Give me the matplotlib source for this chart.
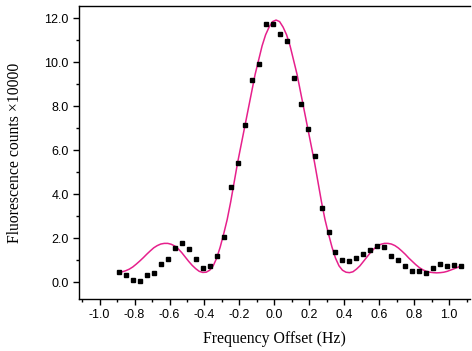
import numpy as np
import matplotlib
matplotlib.use('Agg')
import matplotlib.pyplot as plt
from matplotlib.ticker import MultipleLocator, FormatStrFormatter

plt.rcParams['axes.unicode_minus'] = False

# measured points: frequency offset (Hz) and counts (x10000)
freq = np.round(np.arange(-0.89, 1.071, 0.04), 2)
counts = [0.47, 0.33, 0.12, 0.07, 0.35, 0.44, 0.82, 1.06, 1.57, 1.79,
          1.53, 1.07, 0.64, 0.76, 1.21, 2.06, 4.33, 5.44, 7.15, 9.20,
          9.91, 11.75, 11.75, 11.27, 10.98, 9.30, 8.09, 6.98, 5.73, 3.39,
          2.29, 1.36, 1.03, 0.98, 1.10, 1.29, 1.45, 1.65, 1.60, 1.20,
          1.03, 0.73, 0.51, 0.50, 0.42, 0.66, 0.83, 0.76, 0.80, 0.76]

# fit curve
fit_x = np.round(np.arange(-0.89, 1.071, 0.02), 2)
fit_y = [0.47, 0.48, 0.53, 0.60, 0.70, 0.83, 0.97, 1.12, 1.28, 1.43,
         1.57, 1.67, 1.74, 1.77, 1.77, 1.73, 1.65, 1.52, 1.35, 1.15,
         0.95, 0.77, 0.62, 0.50, 0.45, 0.46, 0.55, 0.75, 1.10, 1.60,
         2.20, 2.85, 3.65, 4.55, 5.45, 6.25, 7.05, 7.85, 8.65, 9.45,
         10.10, 10.75, 11.25, 11.60, 11.85,
         11.92, 11.85, 11.60, 11.25, 10.75, 10.10, 9.45, 8.65, 7.85, 7.05,
         6.25, 5.45, 4.55, 3.65, 2.85, 2.20, 1.60, 1.10, 0.75, 0.55,
         0.46, 0.44, 0.48, 0.60, 0.75, 0.95, 1.15, 1.35, 1.52, 1.65,
         1.73, 1.77, 1.77, 1.74, 1.67, 1.56, 1.42, 1.27, 1.10, 0.95,
         0.80, 0.67, 0.57, 0.50, 0.46, 0.44, 0.43, 0.44, 0.46, 0.50,
         0.56, 0.62, 0.68, 0.76]

fig = plt.figure(figsize=(4.72, 3.51), dpi=100)
ax = fig.add_axes([0.1674, 0.148, 0.8284, 0.835])

ax.plot(fit_x, fit_y, color='#e6208c', lw=1.1, zorder=2)
ax.plot(freq, counts, 's', color='black', ms=2.8, zorder=3)

ax.set_xlim(-1.118, 1.12)
ax.set_ylim(-0.76, 12.56)

ax.xaxis.set_major_locator(MultipleLocator(0.2))
ax.xaxis.set_minor_locator(MultipleLocator(0.1))
ax.yaxis.set_major_locator(MultipleLocator(2))
ax.yaxis.set_minor_locator(MultipleLocator(1))
ax.xaxis.set_major_formatter(FormatStrFormatter('%.1f'))
ax.yaxis.set_major_formatter(FormatStrFormatter('%.1f'))

ax.spines['right'].set_visible(False)
for s in ['left', 'bottom', 'top']:
    ax.spines[s].set_linewidth(1.0)

ax.tick_params(which='major', length=4, width=1, direction='out',
               labelsize=9, pad=3.5)
ax.tick_params(which='minor', length=2.2, width=1, direction='out')
for lab in ax.get_xticklabels() + ax.get_yticklabels():
    lab.set_family('Liberation Sans')

ax.set_xlabel('Frequency Offset (Hz)', family='Liberation Serif', fontsize=11.3,
              labelpad=7)
ax.set_ylabel('Fluorescence counts \u00d710000', family='Liberation Serif',
              fontsize=11.3, labelpad=15)

fig.savefig('out.png', dpi=100)
